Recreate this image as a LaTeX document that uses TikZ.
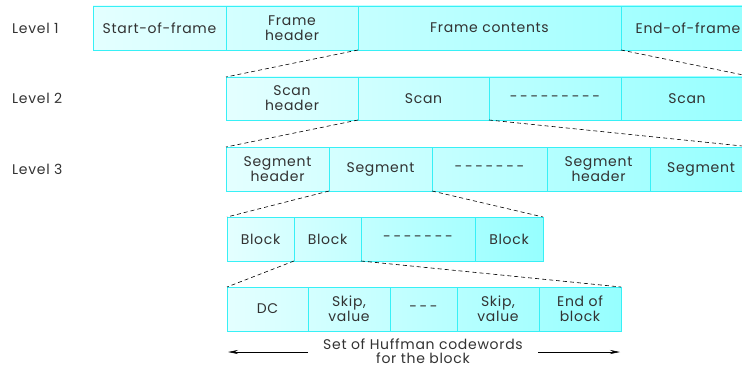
\documentclass[tikz,border=0pt]{standalone}
\usepackage{fontspec}
\setmainfont{Poppins}[LetterSpace=5]
\usetikzlibrary{arrows.meta}
\definecolor{cellline}{RGB}{55,240,246}
\definecolor{shadeL}{RGB}{228,255,255}
\definecolor{shadeR}{RGB}{150,255,255}
\definecolor{txt}{RGB}{50,50,50}
\newcommand\cellnode[6]{\node[cellbox, minimum width={(#3-#2)*1pt}, minimum height={(#5-#4)*1pt}] (#1) at ({(#2+#3)/2},{(#4+#5)/2}) {#6};}
\newcommand\rowshade[4]{\shade[left color=shadeL, right color=shadeR] (#1,#3) rectangle (#2,#4);}
\newcommand\dashtext[1]{\foreach \i in {1,...,#1}{\ifnum\i>1\hspace{2.6pt}\fi-}}
\begin{document}
\begin{tikzpicture}[x=1pt,y=-1pt,
  cellbox/.style={draw=cellline, line width=0.9pt, inner sep=0pt, outer sep=0pt, align=center, text=txt, font=\fontsize{14}{15}\selectfont},
  lvl/.style={text=txt, font=\fontsize{14}{15}\selectfont, anchor=west, inner sep=0pt},
  zoomline/.style={draw=black, dash pattern=on 4pt off 3pt, line width=0.6pt},
  spanarrow/.style={draw=black, line width=0.6pt, -{Stealth[length=10pt,width=4pt]}}]
\useasboundingbox (0,0) rectangle (742,369);
\clip (0,0) rectangle (742,369);
% row backgrounds
\rowshade{93}{755}{6}{50}
\rowshade{226}{753}{77}{120}
\rowshade{226}{752}{147}{191}
\rowshade{227}{543}{217}{261}
\rowshade{227}{621}{287}{331}
% level labels
\node[lvl] (l1) at (12,28) {Level 1};
\node[lvl] (l2) at (12,98) {Level 2};
\node[lvl] (l3) at (12,169) {Level 3};
% level 1
\cellnode{sof}{93}{226}{6}{50}{Start-of-frame}
\cellnode{fh}{226}{358}{6}{50}{Frame\\header}
\cellnode{fc}{358}{621}{6}{50}{Frame contents}
\cellnode{eof}{621}{755}{6}{50}{End-of-frame}
% level 2
\cellnode{sh}{226}{358}{77}{120}{Scan\\header}
\cellnode{sca}{358}{489}{77}{120}{Scan}
\cellnode{dtwo}{489}{621}{77}{120}{\dashtext{9}}
\cellnode{scb}{621}{753}{77}{120}{Scan}
% level 3
\cellnode{sha}{226}{329}{147}{191}{Segment\\header}
\cellnode{sga}{329}{432}{147}{191}{Segment}
\cellnode{dthree}{432}{547}{147}{191}{\dashtext{7}}
\cellnode{shb}{547}{650}{147}{191}{Segment\\header}
\cellnode{sgb}{650}{752}{147}{191}{Segment}
% level 4
\cellnode{ba}{227}{294}{217}{261}{Block}
\cellnode{bb}{294}{361}{217}{261}{Block}
\cellnode{dfour}{361}{475}{217}{261}{\dashtext{7}}
\cellnode{bc}{475}{543}{217}{261}{Block}
% level 5
\cellnode{dc}{227}{308}{287}{331}{DC}
\cellnode{sva}{308}{390}{287}{331}{Skip,\\value}
\cellnode{dfive}{390}{457}{287}{331}{\dashtext{3}}
\cellnode{svb}{457}{539}{287}{331}{Skip,\\value}
\cellnode{eob}{539}{621}{287}{331}{End of\\block}
% zoom connectors
\draw[zoomline] (fc.south west) -- (sh.north west);
\draw[zoomline] (fc.south east) -- (scb.north east);
\draw[zoomline] (sca.south west) -- (sha.north west);
\draw[zoomline] (sca.south east) -- (sgb.north east);
\draw[zoomline] (sga.south west) -- (ba.north west);
\draw[zoomline] (sga.south east) -- (bc.north east);
\draw[zoomline] (bb.south west) -- (dc.north west);
\draw[zoomline] (bb.south east) -- (eob.north east);
% caption with arrows
\node[text=txt, align=center, font=\fontsize{14}{14}\selectfont, inner sep=0pt] (cap) at (423,351) {Set of Huffman codewords\\for the block};
\coordinate (la) at (308,352);
\coordinate (lb) at (228,352);
\coordinate (ra) at (538,352);
\coordinate (rb) at (620,352);
\draw[spanarrow] (la) -- (lb);
\draw[spanarrow] (ra) -- (rb);
\end{tikzpicture}
\end{document}
